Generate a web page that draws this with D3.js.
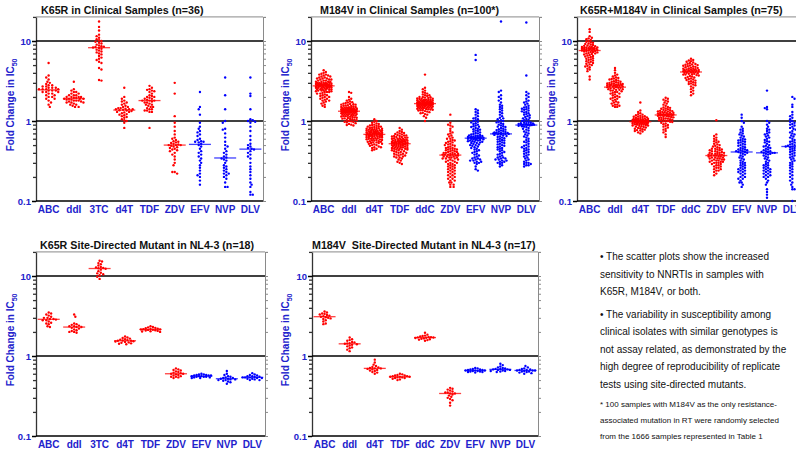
<!DOCTYPE html>
<html>
<head>
<meta charset="utf-8">
<script src="https://cdn.jsdelivr.net/npm/d3@7"></script>
<style>
  body { margin: 0; background: #fff; }
  svg { display: block; font-family: 'Liberation Sans', Arial, sans-serif; }
</style>
</head>
<body>
<div class="chart-container"></div>
<script>
var drugsA = ['ABC', 'ddI', '3TC', 'd4T', 'TDF', 'ZDV', 'EFV', 'NVP', 'DLV'];
var drugsB = ['ABC', 'ddI', 'd4T', 'TDF', 'ddC', 'ZDV', 'EFV', 'NVP', 'DLV'];
var nnrtis = ['EFV', 'NVP', 'DLV'];
var majorTicks = [0.1, 1, 10];
var refLines = [1, 10];

// fold change values, one array per drug, in the order of the drug list
var k65rClinical = [
  [5.3, 3.7, 3.5, 3.3, 3.1, 3.0, 2.9, 2.8, 2.8, 2.7, 2.7, 2.6, 2.6, 2.6, 2.5, 2.5, 2.5, 2.5, 2.4, 2.4, 2.4, 2.3, 2.3, 2.3, 2.2, 2.2, 2.1, 2.1, 2.0, 2.0, 1.9, 1.9, 1.8, 1.7, 1.6, 1.5],
  [3.1, 2.5, 2.4, 2.3, 2.3, 2.2, 2.2, 2.1, 2.1, 2.1, 2.0, 2.0, 2.0, 2.0, 1.95, 1.95, 1.9, 1.9, 1.9, 1.9, 1.85, 1.85, 1.8, 1.8, 1.8, 1.75, 1.75, 1.7, 1.7, 1.7, 1.65, 1.6, 1.6, 1.55, 1.5, 1.5],
  [17.5, 15, 13.5, 12, 11.5, 11, 10.5, 10.2, 10, 9.8, 9.5, 9.3, 9, 8.8, 8.6, 8.5, 8.4, 8.3, 8.2, 8, 7.8, 7.6, 7.4, 7.2, 7, 6.8, 6.5, 6.2, 6, 5.8, 5.5, 5.3, 4.6, 4.4, 3.25, 3.2],
  [2.6, 2.0, 1.9, 1.8, 1.75, 1.7, 1.65, 1.6, 1.55, 1.5, 1.5, 1.45, 1.45, 1.42, 1.4, 1.4, 1.4, 1.38, 1.36, 1.35, 1.33, 1.3, 1.3, 1.28, 1.25, 1.22, 1.2, 1.18, 1.15, 1.12, 1.1, 1.05, 1.02, 1.0, 0.95, 0.82],
  [2.75, 2.6, 2.5, 2.45, 2.4, 2.35, 2.3, 2.2, 2.1, 2.05, 2.0, 2.0, 1.95, 1.9, 1.9, 1.85, 1.8, 1.8, 1.8, 1.75, 1.7, 1.7, 1.65, 1.6, 1.6, 1.55, 1.5, 1.5, 1.45, 1.4, 1.4, 1.35, 1.35, 1.3, 1.3, 0.82],
  [3.0, 2.2, 1.15, 0.95, 0.85, 0.75, 0.68, 0.62, 0.6, 0.58, 0.56, 0.55, 0.54, 0.53, 0.52, 0.51, 0.5, 0.5, 0.5, 0.49, 0.48, 0.47, 0.46, 0.45, 0.44, 0.43, 0.42, 0.4, 0.38, 0.36, 0.33, 0.3, 0.28, 0.23, 0.23, 0.22],
  [2.3, 1.5, 1.4, 1.2, 0.95, 0.85, 0.8, 0.75, 0.72, 0.68, 0.65, 0.6, 0.58, 0.56, 0.55, 0.55, 0.54, 0.52, 0.5, 0.48, 0.45, 0.42, 0.4, 0.38, 0.36, 0.34, 0.32, 0.3, 0.28, 0.26, 0.24, 0.22, 0.21, 0.2, 0.18, 0.16],
  [3.5, 2.1, 1.4, 1.0, 0.95, 0.8, 0.78, 0.7, 0.62, 0.55, 0.5, 0.48, 0.45, 0.42, 0.4, 0.38, 0.36, 0.35, 0.34, 0.33, 0.32, 0.3, 0.28, 0.27, 0.26, 0.25, 0.24, 0.23, 0.22, 0.22, 0.21, 0.2, 0.19, 0.17, 0.15, 0.15],
  [3.5, 2.2, 2.05, 1.4, 1.05, 1.02, 1.0, 0.98, 0.95, 0.85, 0.75, 0.65, 0.58, 0.52, 0.5, 0.48, 0.46, 0.45, 0.44, 0.42, 0.4, 0.38, 0.36, 0.34, 0.3, 0.27, 0.25, 0.23, 0.21, 0.19, 0.17, 0.16, 0.15, 0.13, 0.12, 0.12]
];

var m184vClinical = [
  [4.3, 4.1, 4.0, 3.9, 3.8, 3.8, 3.7, 3.7, 3.6, 3.6, 3.5, 3.5, 3.4, 3.4, 3.4, 3.3, 3.3, 3.3, 3.2, 3.2, 3.2, 3.1, 3.1, 3.1, 3.1, 3.0, 3.0, 3.0, 3.0, 3.0, 2.95, 2.95, 2.9, 2.9, 2.9, 2.9, 2.9, 2.85, 2.85, 2.85, 2.85, 2.8, 2.8, 2.8, 2.8, 2.8, 2.8, 2.75, 2.75, 2.75, 2.75, 2.7, 2.7, 2.7, 2.7, 2.7, 2.65, 2.65, 2.65, 2.6, 2.6, 2.6, 2.6, 2.55, 2.55, 2.5, 2.5, 2.5, 2.5, 2.45, 2.45, 2.4, 2.4, 2.4, 2.35, 2.35, 2.3, 2.3, 2.3, 2.25, 2.2, 2.2, 2.15, 2.1, 2.1, 2.05, 2.0, 2.0, 1.95, 1.9, 1.9, 1.85, 1.8, 1.8, 1.75, 1.7, 1.65, 1.6, 1.55, 1.5],
  [2.3, 2.25, 2.0, 1.9, 1.85, 1.8, 1.75, 1.72, 1.7, 1.68, 1.65, 1.63, 1.62, 1.6, 1.6, 1.58, 1.56, 1.55, 1.54, 1.52, 1.5, 1.5, 1.49, 1.48, 1.47, 1.46, 1.45, 1.45, 1.44, 1.43, 1.42, 1.42, 1.41, 1.4, 1.4, 1.4, 1.39, 1.38, 1.38, 1.37, 1.37, 1.36, 1.36, 1.35, 1.35, 1.35, 1.34, 1.34, 1.33, 1.33, 1.32, 1.32, 1.31, 1.3, 1.3, 1.3, 1.29, 1.28, 1.28, 1.27, 1.27, 1.26, 1.25, 1.25, 1.24, 1.23, 1.22, 1.22, 1.21, 1.2, 1.2, 1.19, 1.18, 1.17, 1.16, 1.15, 1.15, 1.14, 1.13, 1.12, 1.11, 1.1, 1.09, 1.08, 1.07, 1.06, 1.05, 1.04, 1.03, 1.02, 1.0, 0.99, 0.98, 0.97, 0.96, 0.94, 0.92, 0.9, 0.89, 0.88],
  [1.05, 1.0, 0.98, 0.95, 0.93, 0.92, 0.9, 0.89, 0.88, 0.87, 0.86, 0.85, 0.85, 0.84, 0.83, 0.82, 0.82, 0.81, 0.8, 0.8, 0.79, 0.79, 0.78, 0.78, 0.77, 0.77, 0.76, 0.76, 0.75, 0.75, 0.75, 0.74, 0.74, 0.73, 0.73, 0.73, 0.72, 0.72, 0.72, 0.71, 0.71, 0.71, 0.7, 0.7, 0.7, 0.7, 0.69, 0.69, 0.69, 0.68, 0.68, 0.68, 0.67, 0.67, 0.67, 0.66, 0.66, 0.66, 0.65, 0.65, 0.65, 0.64, 0.64, 0.63, 0.63, 0.63, 0.62, 0.62, 0.61, 0.61, 0.6, 0.6, 0.6, 0.59, 0.59, 0.58, 0.58, 0.57, 0.57, 0.56, 0.56, 0.55, 0.55, 0.54, 0.54, 0.53, 0.53, 0.52, 0.52, 0.51, 0.5, 0.5, 0.49, 0.48, 0.47, 0.47, 0.46, 0.45, 0.44, 0.43],
  [0.82, 0.78, 0.75, 0.73, 0.72, 0.71, 0.7, 0.69, 0.68, 0.67, 0.66, 0.66, 0.65, 0.65, 0.64, 0.63, 0.63, 0.62, 0.62, 0.61, 0.61, 0.6, 0.6, 0.6, 0.59, 0.59, 0.58, 0.58, 0.58, 0.57, 0.57, 0.57, 0.56, 0.56, 0.56, 0.55, 0.55, 0.55, 0.55, 0.54, 0.54, 0.54, 0.54, 0.53, 0.53, 0.53, 0.53, 0.52, 0.52, 0.52, 0.52, 0.51, 0.51, 0.51, 0.5, 0.5, 0.5, 0.5, 0.49, 0.49, 0.49, 0.48, 0.48, 0.48, 0.47, 0.47, 0.47, 0.46, 0.46, 0.46, 0.45, 0.45, 0.45, 0.44, 0.44, 0.44, 0.43, 0.43, 0.42, 0.42, 0.41, 0.41, 0.4, 0.4, 0.39, 0.39, 0.38, 0.38, 0.37, 0.37, 0.36, 0.36, 0.35, 0.35, 0.34, 0.33, 0.32, 0.31, 0.3, 0.29],
  [3.8, 2.6, 2.5, 2.4, 2.3, 2.25, 2.2, 2.15, 2.1, 2.1, 2.05, 2.0, 2.0, 1.98, 1.96, 1.94, 1.92, 1.9, 1.9, 1.88, 1.86, 1.85, 1.84, 1.83, 1.82, 1.81, 1.8, 1.8, 1.79, 1.78, 1.77, 1.76, 1.75, 1.75, 1.74, 1.73, 1.72, 1.72, 1.71, 1.7, 1.7, 1.69, 1.69, 1.68, 1.68, 1.67, 1.67, 1.66, 1.66, 1.65, 1.65, 1.64, 1.64, 1.63, 1.63, 1.62, 1.62, 1.61, 1.61, 1.6, 1.6, 1.59, 1.58, 1.58, 1.57, 1.56, 1.56, 1.55, 1.54, 1.54, 1.53, 1.52, 1.51, 1.5, 1.5, 1.49, 1.48, 1.47, 1.46, 1.45, 1.44, 1.43, 1.42, 1.41, 1.4, 1.39, 1.38, 1.37, 1.36, 1.35, 1.33, 1.31, 1.29, 1.27, 1.25, 1.22, 1.2, 1.15, 1.1, 1.0],
  [1.2, 0.95, 0.9, 0.88, 0.85, 0.8, 0.75, 0.72, 0.7, 0.68, 0.66, 0.64, 0.62, 0.6, 0.6, 0.58, 0.57, 0.56, 0.55, 0.54, 0.53, 0.52, 0.51, 0.5, 0.5, 0.49, 0.48, 0.47, 0.46, 0.46, 0.45, 0.45, 0.44, 0.44, 0.43, 0.43, 0.42, 0.42, 0.41, 0.41, 0.4, 0.4, 0.4, 0.39, 0.39, 0.39, 0.38, 0.38, 0.38, 0.38, 0.37, 0.37, 0.37, 0.36, 0.36, 0.36, 0.35, 0.35, 0.35, 0.34, 0.34, 0.34, 0.33, 0.33, 0.32, 0.32, 0.31, 0.31, 0.3, 0.3, 0.29, 0.29, 0.28, 0.28, 0.27, 0.27, 0.26, 0.26, 0.25, 0.25, 0.24, 0.24, 0.23, 0.23, 0.22, 0.22, 0.21, 0.21, 0.2, 0.2, 0.19, 0.19, 0.18, 0.18, 0.17, 0.17, 0.16, 0.16, 0.15, 0.15],
  [6.7, 5.8, 1.4, 1.35, 1.3, 1.25, 1.2, 1.15, 1.1, 1.08, 1.05, 1.02, 1.0, 0.98, 0.96, 0.94, 0.92, 0.9, 0.88, 0.86, 0.85, 0.84, 0.82, 0.8, 0.79, 0.78, 0.76, 0.75, 0.74, 0.72, 0.71, 0.7, 0.69, 0.68, 0.67, 0.66, 0.66, 0.65, 0.65, 0.64, 0.64, 0.63, 0.63, 0.63, 0.62, 0.62, 0.62, 0.62, 0.61, 0.61, 0.61, 0.6, 0.6, 0.6, 0.59, 0.59, 0.58, 0.58, 0.57, 0.57, 0.56, 0.56, 0.55, 0.55, 0.54, 0.53, 0.53, 0.52, 0.51, 0.5, 0.5, 0.49, 0.48, 0.47, 0.46, 0.45, 0.44, 0.43, 0.42, 0.41, 0.4, 0.39, 0.38, 0.37, 0.36, 0.35, 0.34, 0.34, 0.33, 0.33, 0.32, 0.32, 0.31, 0.31, 0.3, 0.3, 0.29, 0.27, 0.25, 0.24],
  [17.5, 2.4, 2.3, 2.1, 2.0, 1.9, 1.8, 1.7, 1.6, 1.55, 1.5, 1.45, 1.4, 1.35, 1.3, 1.25, 1.2, 1.15, 1.1, 1.08, 1.05, 1.02, 1.0, 0.98, 0.96, 0.94, 0.92, 0.9, 0.88, 0.86, 0.85, 0.84, 0.82, 0.8, 0.79, 0.78, 0.77, 0.76, 0.75, 0.74, 0.73, 0.72, 0.72, 0.71, 0.71, 0.7, 0.7, 0.7, 0.7, 0.69, 0.69, 0.68, 0.68, 0.67, 0.66, 0.65, 0.64, 0.63, 0.62, 0.61, 0.6, 0.59, 0.58, 0.57, 0.56, 0.55, 0.54, 0.53, 0.52, 0.51, 0.5, 0.49, 0.48, 0.47, 0.46, 0.45, 0.44, 0.43, 0.42, 0.41, 0.4, 0.39, 0.38, 0.37, 0.36, 0.35, 0.35, 0.34, 0.34, 0.33, 0.33, 0.32, 0.32, 0.31, 0.31, 0.3, 0.3, 0.29, 0.28, 0.27],
  [17, 3.7, 2.3, 2.2, 2.1, 2.0, 1.9, 1.8, 1.75, 1.7, 1.65, 1.6, 1.55, 1.5, 1.48, 1.45, 1.42, 1.4, 1.38, 1.35, 1.32, 1.3, 1.28, 1.25, 1.22, 1.2, 1.18, 1.15, 1.12, 1.1, 1.08, 1.06, 1.04, 1.02, 1.0, 0.98, 0.97, 0.96, 0.95, 0.94, 0.93, 0.92, 0.92, 0.91, 0.91, 0.9, 0.9, 0.9, 0.9, 0.89, 0.89, 0.88, 0.87, 0.86, 0.85, 0.84, 0.82, 0.8, 0.78, 0.76, 0.74, 0.72, 0.7, 0.68, 0.66, 0.64, 0.62, 0.6, 0.58, 0.56, 0.55, 0.54, 0.52, 0.5, 0.49, 0.48, 0.47, 0.46, 0.45, 0.44, 0.43, 0.42, 0.41, 0.4, 0.39, 0.38, 0.37, 0.36, 0.35, 0.34, 0.33, 0.32, 0.31, 0.3, 0.3, 0.29, 0.29, 0.28, 0.28, 0.27]
];

var dualClinical = [
  [14, 13, 11.5, 11, 10.8, 10.5, 10.3, 10, 9.8, 9.6, 9.5, 9.3, 9.2, 9.0, 8.9, 8.8, 8.7, 8.6, 8.5, 8.4, 8.4, 8.3, 8.3, 8.2, 8.2, 8.1, 8.1, 8.0, 8.0, 8.0, 7.9, 7.9, 7.8, 7.8, 7.7, 7.7, 7.6, 7.6, 7.5, 7.5, 7.4, 7.3, 7.3, 7.2, 7.1, 7.0, 7.0, 6.9, 6.8, 6.7, 6.6, 6.5, 6.4, 6.3, 6.2, 6.1, 6.0, 5.9, 5.8, 5.7, 5.6, 5.5, 5.4, 5.3, 5.2, 5.1, 5.0, 4.9, 4.8, 4.7, 4.5, 4.4, 4.2, 3.6, 3.3],
  [4.6, 4.3, 4.0, 3.8, 3.7, 3.6, 3.5, 3.45, 3.4, 3.35, 3.3, 3.25, 3.2, 3.15, 3.1, 3.1, 3.05, 3.0, 3.0, 2.95, 2.95, 2.9, 2.9, 2.9, 2.85, 2.85, 2.85, 2.8, 2.8, 2.8, 2.8, 2.75, 2.75, 2.75, 2.7, 2.7, 2.7, 2.65, 2.65, 2.6, 2.6, 2.55, 2.55, 2.5, 2.5, 2.45, 2.45, 2.4, 2.4, 2.35, 2.3, 2.3, 2.25, 2.2, 2.2, 2.15, 2.1, 2.05, 2.0, 2.0, 1.95, 1.9, 1.9, 1.85, 1.8, 1.75, 1.7, 1.7, 1.65, 1.6, 1.6, 1.55, 1.55, 1.5, 1.5],
  [1.7, 1.35, 1.3, 1.25, 1.22, 1.2, 1.18, 1.16, 1.15, 1.14, 1.13, 1.12, 1.11, 1.1, 1.09, 1.08, 1.07, 1.06, 1.06, 1.05, 1.05, 1.04, 1.04, 1.03, 1.03, 1.02, 1.02, 1.01, 1.01, 1.0, 1.0, 1.0, 1.0, 0.99, 0.99, 0.99, 0.98, 0.98, 0.98, 0.97, 0.97, 0.97, 0.96, 0.96, 0.95, 0.95, 0.94, 0.94, 0.93, 0.93, 0.92, 0.92, 0.91, 0.91, 0.9, 0.9, 0.89, 0.88, 0.88, 0.87, 0.86, 0.85, 0.84, 0.83, 0.82, 0.81, 0.8, 0.79, 0.78, 0.77, 0.76, 0.75, 0.74, 0.72, 0.7],
  [1.95, 1.9, 1.85, 1.8, 1.75, 1.7, 1.65, 1.6, 1.55, 1.5, 1.48, 1.46, 1.44, 1.42, 1.4, 1.38, 1.36, 1.35, 1.34, 1.33, 1.32, 1.31, 1.3, 1.29, 1.28, 1.27, 1.26, 1.25, 1.24, 1.23, 1.22, 1.22, 1.21, 1.21, 1.2, 1.2, 1.2, 1.19, 1.19, 1.18, 1.18, 1.17, 1.16, 1.15, 1.14, 1.13, 1.12, 1.11, 1.1, 1.09, 1.08, 1.07, 1.06, 1.05, 1.04, 1.03, 1.02, 1.01, 1.0, 0.99, 0.98, 0.97, 0.95, 0.93, 0.91, 0.89, 0.87, 0.85, 0.83, 0.8, 0.78, 0.75, 0.72, 0.68, 0.63],
  [6.0, 5.8, 5.7, 5.6, 5.5, 5.4, 5.3, 5.2, 5.15, 5.1, 5.05, 5.0, 4.95, 4.9, 4.85, 4.8, 4.75, 4.7, 4.65, 4.6, 4.55, 4.5, 4.5, 4.45, 4.4, 4.4, 4.35, 4.35, 4.3, 4.3, 4.25, 4.25, 4.2, 4.2, 4.2, 4.15, 4.15, 4.1, 4.1, 4.05, 4.0, 4.0, 3.95, 3.9, 3.9, 3.85, 3.8, 3.8, 3.75, 3.7, 3.65, 3.6, 3.55, 3.5, 3.45, 3.4, 3.35, 3.3, 3.25, 3.2, 3.15, 3.1, 3.05, 3.0, 2.95, 2.9, 2.85, 2.8, 2.7, 2.6, 2.5, 2.4, 2.3, 2.2, 2.1],
  [1.02, 0.68, 0.65, 0.62, 0.6, 0.58, 0.56, 0.55, 0.54, 0.52, 0.51, 0.5, 0.49, 0.48, 0.47, 0.46, 0.45, 0.45, 0.44, 0.44, 0.43, 0.43, 0.42, 0.42, 0.41, 0.41, 0.4, 0.4, 0.4, 0.39, 0.39, 0.39, 0.38, 0.38, 0.38, 0.37, 0.37, 0.37, 0.37, 0.36, 0.36, 0.36, 0.35, 0.35, 0.35, 0.34, 0.34, 0.34, 0.33, 0.33, 0.33, 0.32, 0.32, 0.32, 0.31, 0.31, 0.31, 0.3, 0.3, 0.3, 0.29, 0.29, 0.28, 0.28, 0.27, 0.27, 0.26, 0.26, 0.25, 0.25, 0.24, 0.24, 0.23, 0.22, 0.21],
  [1.2, 1.1, 1.0, 0.95, 0.85, 0.8, 0.78, 0.75, 0.72, 0.7, 0.68, 0.66, 0.64, 0.62, 0.6, 0.59, 0.58, 0.57, 0.56, 0.55, 0.54, 0.53, 0.52, 0.51, 0.5, 0.49, 0.48, 0.47, 0.46, 0.45, 0.44, 0.44, 0.43, 0.43, 0.42, 0.42, 0.41, 0.41, 0.4, 0.4, 0.39, 0.38, 0.37, 0.36, 0.35, 0.34, 0.33, 0.32, 0.31, 0.3, 0.3, 0.29, 0.28, 0.28, 0.27, 0.26, 0.26, 0.25, 0.25, 0.24, 0.24, 0.23, 0.23, 0.22, 0.22, 0.21, 0.2, 0.2, 0.19, 0.19, 0.18, 0.17, 0.17, 0.16, 0.15],
  [2.4, 1.5, 1.45, 1.4, 1.0, 0.95, 0.9, 0.85, 0.8, 0.78, 0.75, 0.72, 0.7, 0.68, 0.66, 0.64, 0.62, 0.6, 0.58, 0.56, 0.55, 0.54, 0.52, 0.5, 0.49, 0.48, 0.47, 0.46, 0.45, 0.44, 0.43, 0.42, 0.42, 0.41, 0.41, 0.4, 0.4, 0.4, 0.39, 0.39, 0.38, 0.37, 0.36, 0.35, 0.34, 0.33, 0.32, 0.31, 0.3, 0.29, 0.28, 0.28, 0.27, 0.26, 0.26, 0.25, 0.25, 0.24, 0.24, 0.23, 0.23, 0.22, 0.22, 0.21, 0.21, 0.2, 0.2, 0.19, 0.18, 0.17, 0.16, 0.14, 0.13, 0.12, 0.11],
  [2.0, 1.9, 1.6, 1.5, 1.3, 1.2, 1.15, 1.1, 1.05, 1.0, 0.98, 0.95, 0.92, 0.9, 0.88, 0.85, 0.82, 0.8, 0.78, 0.75, 0.72, 0.7, 0.68, 0.66, 0.64, 0.62, 0.6, 0.58, 0.56, 0.55, 0.54, 0.53, 0.52, 0.51, 0.5, 0.49, 0.49, 0.48, 0.48, 0.47, 0.46, 0.45, 0.44, 0.43, 0.42, 0.41, 0.4, 0.39, 0.38, 0.37, 0.36, 0.35, 0.34, 0.33, 0.32, 0.31, 0.3, 0.29, 0.28, 0.27, 0.26, 0.25, 0.24, 0.23, 0.22, 0.21, 0.2, 0.19, 0.18, 0.17, 0.16, 0.15, 0.14, 0.14, 0.1]
];

var k65rSdm = [
  [3.5, 3.4, 3.3, 3.2, 3.1, 3.0, 3.0, 2.9, 2.9, 2.85, 2.8, 2.8, 2.7, 2.6, 2.55, 2.5, 2.35, 2.3],
  [3.3, 3.1, 2.55, 2.5, 2.45, 2.4, 2.35, 2.35, 2.3, 2.3, 2.25, 2.2, 2.15, 2.1, 2.05, 2.0, 2.0, 1.95],
  [15.5, 15.2, 14.5, 14, 13.5, 13, 12.8, 12.6, 12.5, 12.3, 12, 11.5, 11, 10.8, 10.5, 10.2, 9.8, 9.2],
  [1.75, 1.7, 1.68, 1.65, 1.62, 1.6, 1.58, 1.56, 1.55, 1.55, 1.53, 1.52, 1.5, 1.48, 1.46, 1.44, 1.42, 1.4],
  [2.35, 2.3, 2.28, 2.25, 2.22, 2.2, 2.18, 2.16, 2.15, 2.15, 2.13, 2.12, 2.1, 2.08, 2.06, 2.04, 2.02, 2.0],
  [0.7, 0.68, 0.67, 0.66, 0.64, 0.63, 0.62, 0.61, 0.6, 0.6, 0.59, 0.58, 0.57, 0.56, 0.55, 0.55, 0.54, 0.53],
  [0.6, 0.59, 0.59, 0.58, 0.58, 0.57, 0.57, 0.57, 0.56, 0.56, 0.56, 0.55, 0.55, 0.55, 0.54, 0.54, 0.53, 0.53],
  [0.65, 0.6, 0.58, 0.56, 0.55, 0.54, 0.53, 0.53, 0.52, 0.52, 0.51, 0.51, 0.5, 0.5, 0.49, 0.48, 0.47, 0.45],
  [0.61, 0.59, 0.58, 0.57, 0.56, 0.56, 0.55, 0.55, 0.54, 0.54, 0.54, 0.53, 0.53, 0.52, 0.52, 0.51, 0.5, 0.5]
];

var m184vSdm = [
  [3.6, 3.5, 3.4, 3.35, 3.3, 3.25, 3.2, 3.15, 3.1, 3.05, 3.0, 2.95, 2.9, 2.8, 2.7, 2.55, 2.5],
  [1.7, 1.62, 1.58, 1.55, 1.5, 1.48, 1.45, 1.43, 1.42, 1.4, 1.38, 1.35, 1.32, 1.28, 1.25, 1.2, 1.15],
  [0.9, 0.83, 0.78, 0.75, 0.73, 0.72, 0.71, 0.7, 0.7, 0.69, 0.68, 0.67, 0.66, 0.65, 0.63, 0.62, 0.6],
  [0.6, 0.59, 0.58, 0.57, 0.57, 0.56, 0.56, 0.55, 0.55, 0.55, 0.54, 0.54, 0.53, 0.53, 0.52, 0.51, 0.5],
  [1.95, 1.85, 1.8, 1.78, 1.75, 1.73, 1.72, 1.71, 1.7, 1.69, 1.68, 1.66, 1.64, 1.62, 1.6, 1.58, 1.55],
  [0.4, 0.39, 0.38, 0.37, 0.36, 0.35, 0.35, 0.34, 0.34, 0.33, 0.32, 0.31, 0.3, 0.29, 0.28, 0.26, 0.24],
  [0.71, 0.7, 0.69, 0.68, 0.68, 0.67, 0.67, 0.66, 0.66, 0.66, 0.65, 0.65, 0.64, 0.64, 0.63, 0.63, 0.62],
  [0.8, 0.77, 0.74, 0.72, 0.71, 0.7, 0.69, 0.69, 0.68, 0.68, 0.67, 0.67, 0.66, 0.65, 0.65, 0.64, 0.63],
  [0.75, 0.72, 0.7, 0.69, 0.68, 0.67, 0.67, 0.66, 0.66, 0.66, 0.65, 0.64, 0.64, 0.63, 0.62, 0.61, 0.6]
];

var noteLines = [
  '\u2022 The scatter plots show the increased',
  'sensitivity to NNRTIs in samples with',
  'K65R, M184V, or both.',
  '\u2022 The variability in susceptibility among',
  'clinical isolates with similar genotypes is',
  'not assay related, as demonstrated by the',
  'high degree of reproducibility of replicate',
  'tests using site-directed mutants.'
];
var footLines = [
  '* 100 samples with M184V as the only resistance-',
  'associated mutation in RT were randomly selected',
  'from the 1666 samples represented in Table 1'
];

var panels = [
  { title: 'K65R in Clinical Samples (n=36)', drugs: drugsA, data: k65rClinical, left: 36, right: 263, bottom: 201, titleX: 41, labelX: 14 },
  { title: 'M184V in Clinical Samples (n=100*)', drugs: drugsB, data: m184vClinical, left: 311, right: 539, bottom: 201, titleX: 320, labelX: 289 },
  { title: 'K65R+M184V in Clinical Samples (n=75)', drugs: drugsB, data: dualClinical, left: 577, right: 805, bottom: 201, titleX: 580, labelX: 555 },
  { title: 'K65R Site-Directed Mutant in NL4-3 (n=18)', drugs: drugsA, data: k65rSdm, left: 36, right: 265, bottom: 436, titleX: 40, labelX: 14 },
  { title: 'M184V  Site-Directed Mutant in NL4-3 (n=17)', drugs: drugsB, data: m184vSdm, left: 312, right: 538, bottom: 436, titleX: 312, labelX: 289 }
];

var blueText = '#2222cc',
  red = '#ff0000',
  blue = '#0000ff',
  decade = 80;

var svg = d3
  .select('.chart-container')
  .append('svg')
  .attr('width', 796)
  .attr('height', 450);

// simple beeswarm: spread points sideways until they stop overlapping
function swarm(vals, y, cx, d, maxOff) {
  var placed = [];
  vals
    .slice()
    .sort(function (a, b) { return b - a; })
    .forEach(function (v, n) {
      var py = y(v),
        sign = n % 2 ? 1 : -1,
        best = cx,
        bestGap = -1;
      for (var k = 0; k * d / 2 <= maxOff && bestGap < d; k++) {
        var offs = k === 0 ? [0] : [sign * k * d / 2, -sign * k * d / 2];
        for (var j = 0; j < offs.length; j++) {
          var px = cx + offs[j],
            gap = Infinity;
          placed.forEach(function (q) {
            var dist = Math.hypot(q.x - px, q.y - py);
            if (dist < gap) gap = dist;
          });
          if (gap > bestGap) {
            bestGap = gap;
            best = px;
          }
          if (gap >= d) break;
        }
      }
      placed.push({ x: best, y: py });
    });
  return placed;
}

panels.forEach(function (p) {
  var top = p.bottom - decade * Math.log10(200);
  var y = d3.scaleLog().domain([0.1, 20]).range([p.bottom, top]);
  var x = d3.scaleBand().domain(p.drugs).range([p.left, p.right]);
  var allTicks = y.ticks();
  var minorTicks = allTicks.filter(function (t) {
    return majorTicks.indexOf(t) === -1;
  });
  var g = svg.append('g');

  // frame
  g.append('line')
    .attr('x1', p.left).attr('x2', p.right)
    .attr('y1', top).attr('y2', top)
    .attr('stroke', '#8a8a8a').attr('stroke-width', 1);

  var rightAxis = g
    .append('g')
    .attr('transform', 'translate(' + p.right + ',0)')
    .call(d3.axisRight(y).tickValues(allTicks).tickSize(3).tickFormat(''));
  rightAxis.selectAll('path, line').attr('stroke', '#8a8a8a');

  var leftMinor = g
    .append('g')
    .attr('transform', 'translate(' + p.left + ',0)')
    .call(d3.axisLeft(y).tickValues(minorTicks).tickSize(3).tickFormat('').tickSizeOuter(0));
  leftMinor.selectAll('path, line').attr('stroke', '#333').attr('stroke-width', 1.3);

  var leftMajor = g
    .append('g')
    .attr('transform', 'translate(' + p.left + ',0)')
    .call(d3.axisLeft(y).tickValues(majorTicks).tickSize(4).tickPadding(1).tickSizeOuter(0)
      .tickFormat(function (d) { return d === 0.1 ? '0.1' : String(d); }));
  leftMajor.select('.domain').remove();
  leftMajor.selectAll('line').attr('stroke', '#000').attr('stroke-width', 1.5);
  leftMajor
    .selectAll('text')
    .attr('fill', blueText)
    .style('font-size', '9.5px')
    .style('font-weight', 'bold');

  g.selectAll('.ref')
    .data(refLines)
    .enter()
    .append('line')
    .attr('x1', p.left).attr('x2', p.right)
    .attr('y1', function (d) { return y(d); })
    .attr('y2', function (d) { return y(d); })
    .attr('stroke', '#000').attr('stroke-width', 1.5);

  g.append('line')
    .attr('x1', p.left).attr('x2', p.right)
    .attr('y1', p.bottom).attr('y2', p.bottom)
    .attr('stroke', '#000').attr('stroke-width', 1.5);

  // drug labels
  g.selectAll('.drug')
    .data(p.drugs)
    .enter()
    .append('text')
    .attr('x', function (d) { return x(d) + x.bandwidth() / 2; })
    .attr('y', p.bottom + 12)
    .attr('text-anchor', 'middle')
    .attr('fill', blueText)
    .style('font-size', '10px')
    .style('font-weight', 'bold')
    .text(function (d) { return d; });

  // title
  g.append('text')
    .attr('x', p.titleX)
    .attr('y', top - 3)
    .attr('fill', '#111')
    .style('font-size', '10.7px')
    .style('font-weight', 'bold')
    .style('white-space', 'pre')
    .text(p.title);

  // y label
  var lab = g
    .append('text')
    .attr('transform', 'translate(' + p.labelX + ',' + ((top + p.bottom) / 2 - 4) + ') rotate(-90)')
    .attr('text-anchor', 'middle')
    .attr('fill', blueText)
    .style('font-size', '10px')
    .style('font-weight', 'bold');
  lab.append('tspan').text('Fold Change in IC');
  lab.append('tspan').attr('dy', 3).style('font-size', '7px').text('50');

  // points and medians
  p.drugs.forEach(function (drug, i) {
    var vals = p.data[i],
      cx = x(drug) + x.bandwidth() / 2,
      col = nnrtis.indexOf(drug) >= 0 ? blue : red,
      dense = vals.length > 50,
      pts = swarm(vals, y, cx, dense ? 2.2 : 2.4, dense ? 8 : 10);

    g.append('g')
      .selectAll('circle')
      .data(pts)
      .enter()
      .append('circle')
      .attr('cx', function (d) { return d.x; })
      .attr('cy', function (d) { return d.y; })
      .attr('r', 1.2)
      .attr('fill', col);

    var med = d3.median(vals);
    g.append('line')
      .attr('x1', cx - 11).attr('x2', cx + 11)
      .attr('y1', y(med)).attr('y2', y(med))
      .attr('stroke', col)
      .attr('stroke-opacity', 0.75)
      .attr('stroke-width', 1.3);
  });
});

// notes on the lower right
var notes = svg.append('g').attr('fill', '#111');
notes
  .selectAll('.note')
  .data(noteLines)
  .enter()
  .append('text')
  .attr('x', 600)
  .attr('y', function (d, i) { return 260 + i * 17.5 + (i >= 3 ? 5 : 0); })
  .style('font-size', '10px')
  .text(function (d) { return d; });
notes
  .selectAll('.foot')
  .data(footLines)
  .enter()
  .append('text')
  .attr('x', 600)
  .attr('y', function (d, i) { return 407 + i * 16; })
  .style('font-size', '8px')
  .text(function (d) { return d; });
</script>
</body>
</html>
